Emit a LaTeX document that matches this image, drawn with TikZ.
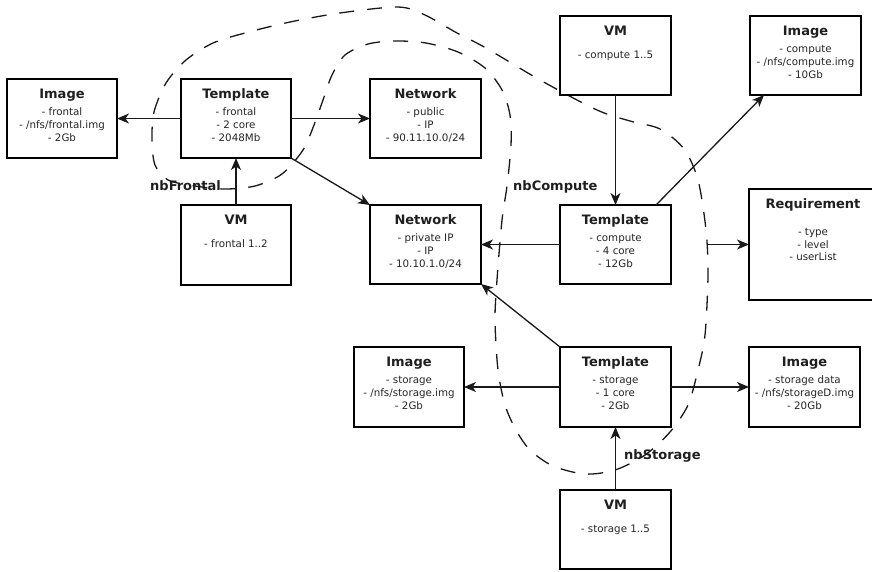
\documentclass[tikz,border=0pt]{standalone}
\usepackage{fontspec}
\setmainfont{DejaVu Sans}
\usetikzlibrary{arrows.meta}

% An entity box: name, top-left corner, width, height, title, gap from the
% title baseline to the first body line, body lines.
\newcommand\entity[7]{%
  \node[entitybox, minimum width=#3, minimum height=#4] (#1) at (#2) {};
  \node[titletext] (#1-title) at ([yshift=-19.3pt]#1.north) {#5};
  \node[bodytext] (#1-body) at ([yshift={-19.3pt-#6}]#1.north) {\parbox[t]{#3}{\centering #7}};
}

\begin{document}
\begin{tikzpicture}[x=1pt, y=-1pt,
  entitybox/.style={draw=black, line width=1.4pt, fill=white, inner sep=0pt,
    outer sep=0pt, anchor=north west},
  titletext/.style={anchor=base, inner sep=0pt, text=black!88,
    font=\fontsize{13}{15}\selectfont\bfseries},
  bodytext/.style={anchor=base, inner sep=0pt, text=black!85,
    font=\fontsize{10.3}{12.6}\selectfont},
  grouplabel/.style={anchor=base west, inner sep=0pt, text=black!88,
    font=\fontsize{13}{15}\selectfont\bfseries},
  link/.style={line width=1.3pt, draw=black!90,
    -{Stealth[length=12pt, width=10pt, inset=3.5pt]}},
  lasso/.style={line width=1.3pt, draw=black!90, dash pattern=on 15pt off 13pt}
]
\fill[white] (0,0) rectangle (872,571);
\useasboundingbox (0,0) rectangle (872,571);

% group multiplicities
\node[grouplabel] (lblF) at (150,190.5) {nbFrontal};
\node[grouplabel] (lblC) at (513,190) {nbCompute};
\node[grouplabel] (lblS) at (624,459) {nbStorage};

% dashed lasso round the three templates
\draw[lasso] plot[smooth cycle, tension=0.5] coordinates {
  (152,140) (154,112) (166,83) (186,60) (213,43) (245,33) (290,22) (340,13)
  (398,7) (425,15) (457,33) (486,48) (540,80) (597,110) (630,121) (660,129)
  (684,149) (698,180) (706,230) (708,275) (705,335) (698,370) (688,405)
  (670,432) (645,455) (615,470) (585,474) (553,466) (530,450) (516,430)
  (505,405) (498,370) (495,320) (497,280) (502,220) (507,186) (511,145)
  (510,115) (502,90) (485,68) (458,52) (426,43) (395,41) (368,44) (345,55)
  (332,75) (323,100) (314,125) (303,150) (282,174) (255,186) (225,189)
  (195,186) (168,180) (155,165)};
\coordinate (reqsrc) at (707,244.5);

% entities
\entity{imgF}{7,79}{110pt}{79pt}{Image}{17.5pt}{- frontal\\- /nfs/frontal.img\\- 2Gb}
\entity{tplF}{181,79}{110pt}{79pt}{Template}{17.5pt}{- frontal\\- 2 core\\- 2048Mb}
\entity{netPub}{370,79}{111pt}{79pt}{Network}{17.5pt}{- public\\- IP\\- 90.11.10.0/24}
\entity{vmC}{560,16}{111pt}{79pt}{VM}{23pt}{- compute 1..5}
\entity{imgC}{750,16}{111pt}{79pt}{Image}{17.5pt}{- compute\\- /nfs/compute.img\\- 10Gb}
\entity{vmF}{181,205}{110pt}{80pt}{VM}{23pt}{- frontal 1..2}
\entity{netPriv}{370,205}{111pt}{79pt}{Network}{17.5pt}{- private IP\\- IP\\- 10.10.1.0/24}
\entity{tplC}{560,205}{111pt}{79pt}{Template}{17.5pt}{- compute\\- 4 core\\- 12Gb}
\entity{req}{749,189}{128pt}{111pt}{Requirement}{27.3pt}{- type\\- level\\- userList}
\entity{imgS}{354,347}{110pt}{80pt}{Image}{17.5pt}{- storage\\- /nfs/storage.img\\- 2Gb}
\entity{tplS}{560,347}{111pt}{80pt}{Template}{17.5pt}{- storage\\- 1 core\\- 2Gb}
\entity{imgSD}{749,347}{111pt}{80pt}{Image}{17.5pt}{- storage data\\- /nfs/storageD.img\\- 20Gb}
\entity{vmS}{560,490}{111pt}{79pt}{VM}{23pt}{- storage 1..5}

% connectors
\draw[link] (tplF) -- (imgF);
\draw[link] (tplF) -- (netPub);
\draw[link] (vmF) -- (tplF);
\draw[link] (tplF.south east) -- (netPriv.north west);
\draw[link] (vmC) -- (tplC);
\draw[link] ([xshift=40.5pt]tplC.north) -- ([xshift=-41.5pt]imgC.south);
\draw[link] (tplC) -- (netPriv);
\draw[link] (reqsrc) -- (reqsrc -| req.west);
\draw[link] (tplS.north west) -- (netPriv.south east);
\draw[link] (tplS) -- (imgS);
\draw[link] (tplS) -- (imgSD);
\draw[link] (vmS) -- (tplS);
\end{tikzpicture}
\end{document}
